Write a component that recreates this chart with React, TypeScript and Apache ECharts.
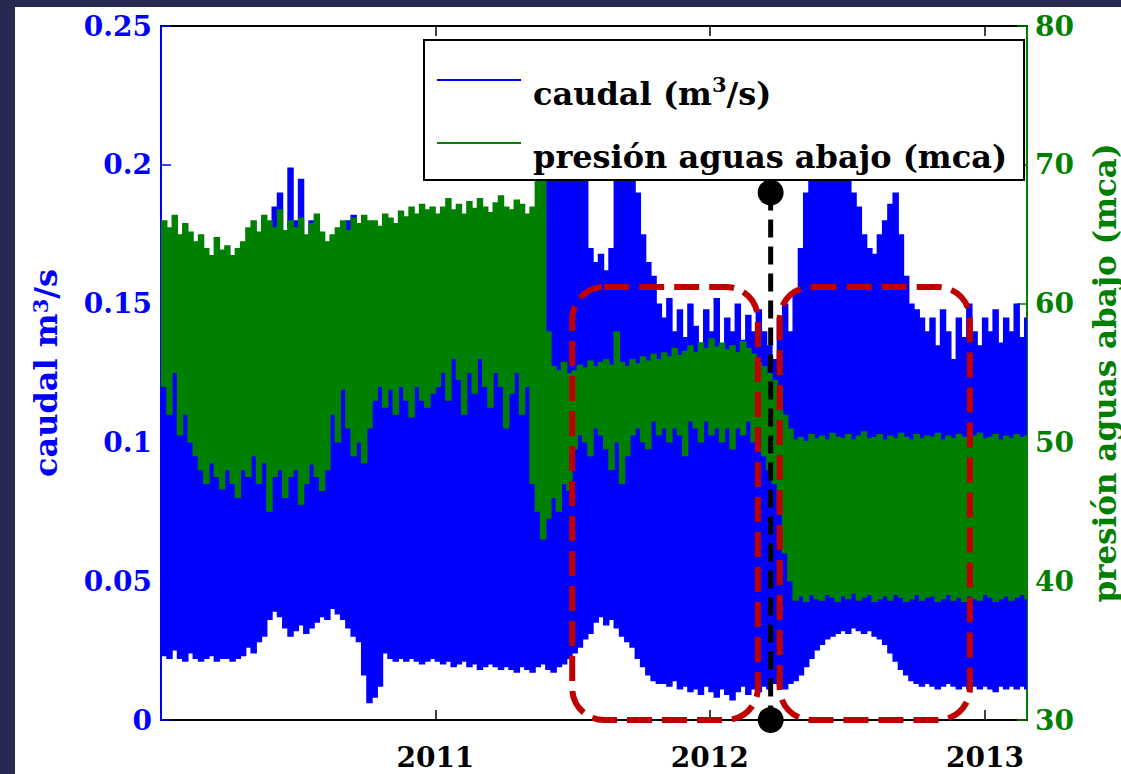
import React, { useEffect, useRef } from 'react';
import * as echarts from 'echarts';

const DAY = 86400000;
const SERIES_START = '2010-01-01';
const SAMPLE_DAYS = 7;
const X_MIN = '2010-01-01';
const X_MAX = '2013-02-26';
const YEAR_TICKS = ['2011-01-01', '2012-01-01', '2013-01-01'];

// weekly minimum / maximum of the flow (m3/s)
const flowLow = [
  0.023, 0.022, 0.025, 0.022, 0.021, 0.024, 0.022, 0.021, 0.022, 0.023, 0.021, 0.022, 0.022, 0.021, 0.022, 0.023,
  0.026, 0.024, 0.028, 0.03,
  0.036, 0.039, 0.037, 0.033,
  0.03, 0.032, 0.034, 0.031, 0.033,
  0.035, 0.037, 0.036, 0.04, 0.038, 0.036, 0.033,
  0.03, 0.028,
  0.016, 0.006, 0.008, 0.012,
  0.024, 0.022, 0.021, 0.022, 0.021, 0.022, 0.021, 0.02, 0.021, 0.022,
  0.021, 0.02, 0.021, 0.019, 0.02, 0.021, 0.019, 0.02, 0.018, 0.019, 0.02, 0.019, 0.018,
  0.019, 0.018, 0.017, 0.019, 0.018, 0.017, 0.019, 0.02, 0.018, 0.017, 0.019,
  0.02, 0.022, 0.024, 0.026,
  0.029, 0.031, 0.035, 0.037, 0.034, 0.036, 0.033, 0.03, 0.028,
  0.026, 0.022, 0.019, 0.016, 0.014, 0.013,
  0.013, 0.012, 0.014, 0.011, 0.012, 0.01, 0.011, 0.009, 0.012, 0.01, 0.008, 0.011, 0.009, 0.007, 0.01, 0.012, 0.009, 0.011, 0.01,
  0.012, 0.011, 0.013, 0.012, 0.011, 0.013, 0.014,
  0.016, 0.019, 0.022, 0.025,
  0.027, 0.029, 0.03, 0.031, 0.032, 0.031, 0.033, 0.032, 0.031, 0.032, 0.03, 0.029, 0.027,
  0.024, 0.021, 0.018, 0.016, 0.014,
  0.013, 0.012, 0.013, 0.012, 0.011, 0.012, 0.013, 0.012, 0.011, 0.012, 0.011, 0.012, 0.011, 0.012, 0.011, 0.01, 0.012, 0.011, 0.012, 0.011, 0.012, 0.011,
];
const flowHigh = [
  0.14, 0.135, 0.145, 0.13, 0.14, 0.15, 0.138, 0.142, 0.135, 0.148, 0.14, 0.132, 0.145, 0.138, 0.15, 0.14, 0.135, 0.145, 0.15, 0.16,
  0.17, 0.185, 0.19, 0.175, 0.199, 0.18, 0.195, 0.17, 0.18, 0.175, 0.165,
  0.15, 0.14, 0.16, 0.155, 0.18, 0.182, 0.165,
  0.15, 0.14, 0.145, 0.15, 0.14, 0.155, 0.145, 0.15, 0.14, 0.148, 0.15, 0.145, 0.14, 0.15,
  0.14, 0.15, 0.145, 0.14, 0.15, 0.145, 0.14, 0.15, 0.148, 0.14, 0.145, 0.15, 0.14, 0.145, 0.15, 0.14, 0.145, 0.15, 0.16,
  0.17, 0.18, 0.2, 0.22, 0.23, 0.215, 0.235, 0.22, 0.2, 0.21,
  0.17, 0.165, 0.168, 0.162, 0.17,
  0.2, 0.225, 0.235, 0.21, 0.19,
  0.175, 0.165, 0.16, 0.15,
  0.145, 0.152, 0.14, 0.148, 0.138, 0.15, 0.142, 0.136, 0.148, 0.14, 0.152, 0.135, 0.145, 0.14, 0.15, 0.137, 0.146, 0.14, 0.148,
  0.14, 0.135, 0.13, 0.145, 0.15, 0.14,
  0.155, 0.17, 0.19, 0.2, 0.215,
  0.23, 0.225, 0.235, 0.22, 0.21, 0.2,
  0.19, 0.185, 0.175, 0.17, 0.168, 0.175,
  0.18, 0.186, 0.19, 0.175,
  0.16, 0.15, 0.148, 0.145,
  0.14, 0.145, 0.135, 0.148, 0.14, 0.13, 0.145, 0.138, 0.15, 0.14, 0.135, 0.145, 0.14, 0.148, 0.136, 0.145, 0.14, 0.15, 0.138, 0.145,
];
// weekly minimum / maximum of the downstream pressure (mca)
const pressureLow = [
  54, 52, 55, 50.5, 52, 50,
  49, 48, 47, 48.5, 47.5, 46.6, 48, 47, 46,
  48, 47.5, 49, 47, 48.5, 45, 47.5, 48, 46, 47.5, 48, 45.5, 47, 48.4, 47.5, 46.5, 48,
  52, 50, 53.8, 51, 49, 50, 48.5, 51,
  53, 54, 52.5, 53.8, 52, 54, 53, 51.8, 54, 53, 52.5, 53.5,
  54, 55, 53, 56, 54.5, 52, 55, 53.5, 56, 54, 52.5, 55, 54, 51, 53.5, 55, 52, 54,
  47, 45, 43, 44.5,
  46, 45, 47, 46.5,
  49.5, 50.5, 50, 49, 51, 50.5, 49.5, 48, 50, 47, 49, 50.5, 51, 50, 49.5, 51.5, 50.5, 51, 50, 51, 50.5, 49, 51.5, 51, 50, 51.5, 50.5, 51, 50, 51, 49.5, 51, 50.5, 51.5, 50, 51,
  49, 48, 47, 45, 42, 40,
  38.6, 38.9, 38.5, 39, 38.7, 38.6, 39, 38.8, 38.5, 38.9, 38.7, 39.1, 38.6, 38.8, 39, 38.5, 38.7, 38.9, 38.6, 39, 38.8, 38.5, 38.7, 39, 38.6, 38.8, 38.9, 38.5, 38.7, 39, 38.6, 38.8, 38.5, 38.9, 38.7, 38.6, 39, 38.8, 38.5, 38.7, 38.9, 38.6, 38.8, 39, 38.7,
];
const pressureHigh = [
  66, 65.5, 66.4, 65, 65.8, 65.2,
  64.5, 65, 64, 63.5, 64.8, 63.9, 64.2, 63.5, 64,
  64.5, 65.5, 66, 65.2, 66.4, 66, 65.5, 66.8, 65.3, 66, 65.5, 66.2, 65, 65.8, 66.5, 65.2, 64.5,
  65, 65.5, 66, 65.3, 66.2, 65.8, 66.4, 66,
  66, 65.6, 66.5, 66.2, 65.8, 66.7, 66.3, 67, 66.5, 67.2, 66.8, 67,
  66.5, 67, 67.6, 66.8, 67.2, 66.5, 67.4, 66.9, 67.6, 67, 66.6, 67.3, 67.8, 67, 66.8, 67.5, 67.2, 66.5,
  67, 79, 79, 58,
  55.5, 55.2, 55.8, 55,
  55.2, 55.6, 55.4, 55.9, 55.5, 55.8, 56, 55.6, 58, 55.8, 55.5, 56, 55.7, 56.2, 55.9, 56.4, 56, 56.5, 56.2, 56.8, 56.3, 56.6, 57, 56.5, 57.2, 56.8, 57.5, 56.9, 57.2, 56.7, 57, 56.5, 57.3, 56.8, 56.4, 55.8,
  55.5, 55, 54.5, 54, 52, 51,
  50.2, 50.4, 50.1, 50.6, 50.3, 50.5, 50.2, 50.7, 50.4, 50.3, 50.6, 50.2, 50.5, 50.8, 50.3, 50.4, 50.6, 50.2, 50.5, 50.3, 50.7, 50.4, 50.2, 50.6, 50.3, 50.5, 50.4, 50.7, 50.2, 50.5, 50.3, 50.6, 50.4, 50.2, 50.5, 50.7, 50.3, 50.4, 50.6, 50.2, 50.5, 50.3, 50.6, 50.4, 50.5,
];

// annotations (dates / values)
const boxStarts = ['2011-07-02', '2012-04-03'];
const boxEnds = ['2012-03-05', '2012-12-12'];
const BOX_TOP = 0.156;
const MARKER_DATE = '2012-03-22';
const MARKER_TOP = 0.19;

const BLUE = '#0000ff';
const GREEN = '#008000';
const RED = '#c00000';
const FONT = "'DejaVu Serif', serif";

const ts = (d: string) => Date.parse(d + 'T00:00:00Z');

function band(low: number[], high: number[]) {
  const n = Math.min(low.length, high.length);
  const out: number[][] = [];
  const t0 = ts(SERIES_START);
  for (let i = 0; i < n; i++) out.push([t0 + i * SAMPLE_DAYS * DAY, low[i], high[i]]);
  return out;
}

function bandRenderer(color: string) {
  return (params: any, api: any) => {
    const t = api.value(0);
    const lo = api.value(1);
    const hi = api.value(2);
    const p1 = api.coord([t, hi]);
    const p2 = api.coord([t + SAMPLE_DAYS * DAY, lo]);
    const cs = params.coordSys;
    const shape = echarts.graphic.clipRectByRect(
      { x: p1[0], y: p1[1], width: p2[0] - p1[0] + 1.2, height: p2[1] - p1[1] },
      { x: cs.x, y: cs.y, width: cs.width, height: cs.height }
    );
    if (!shape) return null;
    return { type: 'rect', shape, style: { fill: color } };
  };
}

export default function App() {
  const ref = useRef<HTMLDivElement>(null);
  useEffect(() => {
    if (!ref.current) return;
    const chart = echarts.init(ref.current, undefined, { renderer: 'svg' });
    const labelStyle = { fontFamily: FONT, fontWeight: 'bold' as const, fontSize: 28 };
    const yearValues = YEAR_TICKS.map(ts);
    chart.setOption({
      animation: false,
      backgroundColor: '#ffffff',
      grid: { left: 146, top: 19, right: 94, bottom: 54, containLabel: false, outerBoundsMode: 'none' },
      legend: {
        left: 409,
        top: 33,
        orient: 'vertical',
        backgroundColor: '#ffffff',
        borderColor: '#000000',
        borderWidth: 2,
        borderRadius: 0,
        padding: [10, 17, 7, 13],
        itemGap: 3,
        itemWidth: 84,
        itemHeight: 2,
        data: [
          { name: 'caudal (m3/s)', icon: 'rect', itemStyle: { color: BLUE } },
          { name: 'presión aguas abajo (mca)', icon: 'rect', itemStyle: { color: GREEN } },
        ],
        formatter: (name: string) =>
          name === 'caudal (m3/s)' ? '{a|caudal (m}{s|3}{b|/s)}' : '{a|presión aguas abajo (mca)}',
        textStyle: {
          color: '#000000',
          rich: {
            a: { fontFamily: FONT, fontWeight: 'bold', fontSize: 32, lineHeight: 30, padding: [28, 0, 0, 7], color: '#000' },
            b: { fontFamily: FONT, fontWeight: 'bold', fontSize: 32, lineHeight: 30, padding: [28, 0, 0, 0], color: '#000' },
            s: { fontFamily: FONT, fontWeight: 'bold', fontSize: 21, lineHeight: 30, padding: [8, 0, 0, 0], color: '#000' },
          },
        },
      },
      xAxis: [
        {
          type: 'value',
          min: ts(X_MIN),
          max: ts(X_MAX),
          position: 'bottom',
          axisLine: { show: true, onZero: false, lineStyle: { color: '#000', width: 2 } },
          axisTick: { show: true, inside: true, length: 10, lineStyle: { color: '#000', width: 1.5 }, customValues: yearValues },
          axisLabel: {
            ...labelStyle,
            color: '#000',
            margin: 23,
            customValues: yearValues,
            formatter: (v: number) => String(new Date(v).getUTCFullYear()),
          },
          splitLine: { show: false },
        },
        {
          type: 'value',
          min: ts(X_MIN),
          max: ts(X_MAX),
          position: 'top',
          axisLine: { show: true, onZero: false, lineStyle: { color: '#000', width: 2 } },
          axisTick: { show: true, inside: true, length: 10, lineStyle: { color: '#000', width: 1.5 }, customValues: yearValues },
          axisLabel: { show: false, customValues: yearValues },
          splitLine: { show: false },
        },
      ],
      yAxis: [
        {
          type: 'value',
          min: 0,
          max: 0.25,
          interval: 0.05,
          position: 'left',
          name: '{a|caudal m}{s|3}{a|/s}',
          nameLocation: 'middle',
          nameGap: 104,
          nameRotate: 90,
          nameTextStyle: {
            color: BLUE,
            rich: {
              a: { fontFamily: FONT, fontWeight: 'bold', fontSize: 32, color: BLUE, lineHeight: 34, padding: [12, 0, 0, 0] },
              s: { fontFamily: FONT, fontWeight: 'bold', fontSize: 21, color: BLUE, lineHeight: 34 },
            },
          },
          axisLine: { show: true, onZero: false, lineStyle: { color: BLUE, width: 2 } },
          axisTick: { show: true, inside: true, length: 10, lineStyle: { color: BLUE, width: 1.5 } },
          axisLabel: { ...labelStyle, color: BLUE, margin: 9 },
          splitLine: { show: false },
        },
        {
          type: 'value',
          min: 30,
          max: 80,
          interval: 10,
          position: 'right',
          name: 'presión aguas abajo (mca)',
          nameLocation: 'middle',
          nameGap: 62,
          nameRotate: 90,
          nameTextStyle: { fontFamily: FONT, fontWeight: 'bold', fontSize: 31, color: GREEN },
          axisLine: { show: true, onZero: false, lineStyle: { color: GREEN, width: 2 } },
          axisTick: { show: true, inside: true, length: 10, lineStyle: { color: GREEN, width: 1.5 } },
          axisLabel: { ...labelStyle, color: GREEN, margin: 8 },
          splitLine: { show: false },
        },
      ],
      series: [
        {
          name: 'caudal (m3/s)',
          type: 'custom',
          xAxisIndex: 0,
          yAxisIndex: 0,
          itemStyle: { color: BLUE },
          renderItem: bandRenderer(BLUE),
          encode: { x: 0, y: [1, 2] },
          data: band(flowLow, flowHigh),
          z: 2,
        },
        {
          name: 'presión aguas abajo (mca)',
          type: 'custom',
          xAxisIndex: 0,
          yAxisIndex: 1,
          itemStyle: { color: GREEN },
          renderItem: bandRenderer(GREEN),
          encode: { x: 0, y: [1, 2] },
          data: band(pressureLow, pressureHigh),
          z: 3,
        },
      ],
    });

    const px = (d: string, v: number) =>
      chart.convertToPixel({ xAxisIndex: 0, yAxisIndex: 0 }, [ts(d), v]) as number[];
    const graphics: any[] = [];
    for (let i = 0; i < boxStarts.length; i++) {
      const a = px(boxStarts[i], BOX_TOP);
      const b = px(boxEnds[i], 0);
      graphics.push({
        type: 'rect',
        z: 100,
        shape: { x: a[0], y: a[1], width: b[0] - a[0], height: b[1] - a[1], r: 32 },
        style: { fill: 'none', stroke: RED, lineWidth: 6, lineDash: [25, 10] },
      });
    }
    const mt = px(MARKER_DATE, MARKER_TOP);
    const mb = px(MARKER_DATE, 0);
    graphics.push({
      type: 'line',
      z: 101,
      shape: { x1: mt[0], y1: mt[1], x2: mb[0], y2: mb[1] },
      style: { stroke: '#000', lineWidth: 5, lineDash: [18, 9] },
    });
    graphics.push({ type: 'circle', z: 102, shape: { cx: mt[0], cy: mt[1], r: 13 }, style: { fill: '#000' } });
    graphics.push({ type: 'circle', z: 102, shape: { cx: mb[0], cy: mb[1], r: 13 }, style: { fill: '#000' } });
    chart.setOption({ graphic: graphics });

    return () => chart.dispose();
  }, []);

  return (
    <div style={{ position: 'fixed', left: 0, top: 0, width: 1121, height: 774, background: '#272a50' }}>
      <div
        ref={ref}
        style={{ position: 'absolute', left: 15, top: 7, width: 1106, height: 767, background: '#ffffff' }}
      />
    </div>
  );
}
